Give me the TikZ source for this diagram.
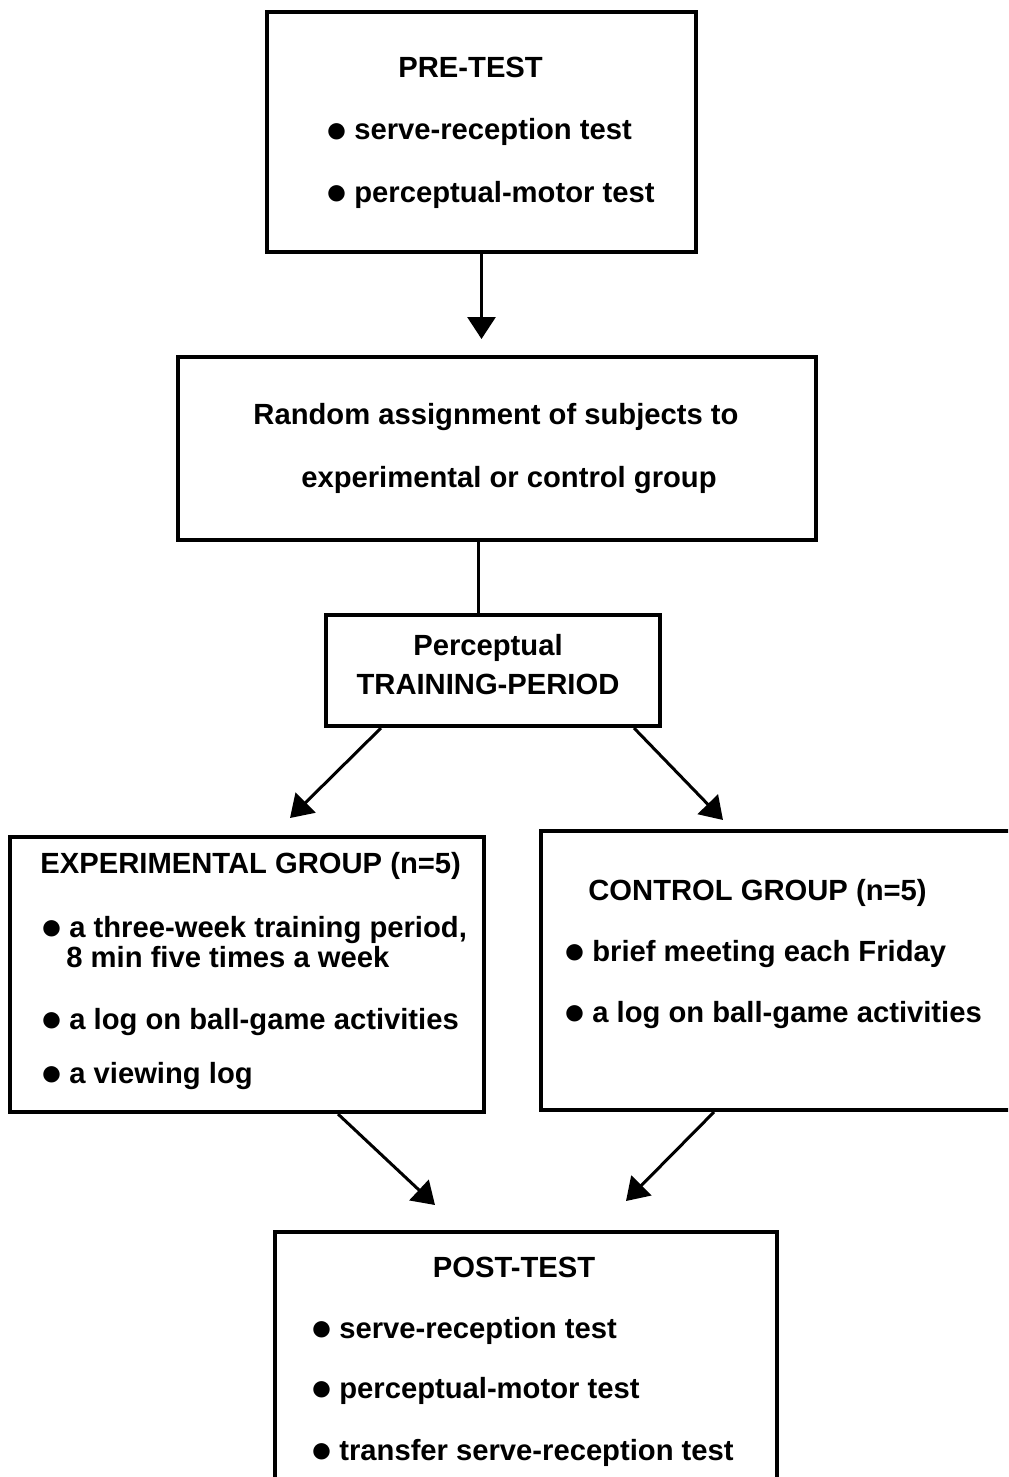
\documentclass[tikz,border=0pt]{standalone}
\usepackage{fontspec}
\setmainfont{Liberation Sans}
\usepackage{tikz}
\usetikzlibrary{arrows,arrows.meta,shapes,calc}
\tikzstyle{box}=[draw=black, line width=2pt, rectangle, inner sep=0pt]
\tikzstyle{txt}=[inner sep=0pt, anchor=base west,
                 font=\fontsize{14.6}{16}\selectfont\bfseries]
\tikzstyle{ctxt}=[txt, anchor=base]
\tikzstyle{arr}=[line width=1.5pt, -{Triangle[width=14pt,length=11pt]}]
\tikzstyle{lnk}=[line width=1.5pt]
\newcommand{\bul}{\raisebox{-1.2pt}{\fontsize{19}{16}\selectfont ●}\hspace{3pt}}

\begin{document}
\begin{tikzpicture}[x=0.5pt,y=-0.5pt]
\useasboundingbox (0,0) rectangle (1008,1477);
\clip (0,0) rectangle (1008,1477);
\node[box, minimum width=214.5pt, minimum height=120pt] (pre) at (481.5,132) {};
\node[box, minimum width=319pt, minimum height=91.5pt] (rand) at (497,448.5) {};
\node[box, minimum width=167pt, minimum height=55.5pt] (per) at (493,670.5) {};
\node[box, minimum width=237pt, minimum height=137.5pt] (exp) at (247,974.5) {};
\node[box, minimum width=244.5pt, minimum height=139.5pt] (ctrl) at (785.5,970.5) {};
\node[box, minimum width=251pt, minimum height=144pt] (post) at (526,1376) {};

\node[txt] (pretitle) at (398,78) {PRE-TEST};
\node[txt] (pre1) at (325,140) {\bul serve-reception test};
\node[txt] (pre2) at (325,202) {\bul perceptual-motor test};

\node[ctxt] (rand1) at (496,424) {Random assignment of subjects to};
\node[ctxt] (rand2) at (509,487) {experimental or control group};

\node[ctxt] (per1) at (488,655) {Perceptual};
\node[ctxt] (per2) at (488,694) {TRAINING-PERIOD};

\node[txt] (exptitle) at (40,873) {EXPERIMENTAL GROUP (n=5)};
\node[txt] (exp1) at (40,937) {\bul a three-week training period,};
\node[txt] (exp1b) at (66,967) {8 min five times a week};
\node[txt] (exp2) at (40,1029) {\bul a log on ball-game activities};
\node[txt] (exp3) at (40,1083) {\bul a viewing log};

\node[txt] (ctrltitle) at (588,900) {CONTROL GROUP (n=5)};
\node[txt] (ctrl1) at (563,961) {\bul brief meeting each Friday};
\node[txt] (ctrl2) at (563,1022) {\bul a log on ball-game activities};

\node[ctxt] (posttitle) at (514,1277) {POST-TEST};
\node[txt] (post1) at (310,1338) {\bul serve-reception test};
\node[txt] (post2) at (310,1398) {\bul perceptual-motor test};
\node[txt] (post3) at (310,1460) {\bul transfer serve-reception test};

\coordinate (join) at ($(per.north)+(-15,0)$);
\draw[arr] (pre.south) -- ($(pre.south |- rand.north)+(0,-16)$);
\draw[lnk] (join) -- (join |- rand.south);
\draw[arr] ($(per.south west)+(57,0)$) -- ($(exp.north west)+(282,-17)$);
\draw[arr] ($(per.south east)+(-28,0)$) -- ($(ctrl.north west)+(184,-9)$);
\draw[arr] ($(exp.south west)+(330,0)$) -- ($(post.north west)+(162,-25)$);
\draw[arr] ($(ctrl.south west)+(175,0)$) -- ($(post.north east)+(-153,-29)$);
\end{tikzpicture}
\end{document}
